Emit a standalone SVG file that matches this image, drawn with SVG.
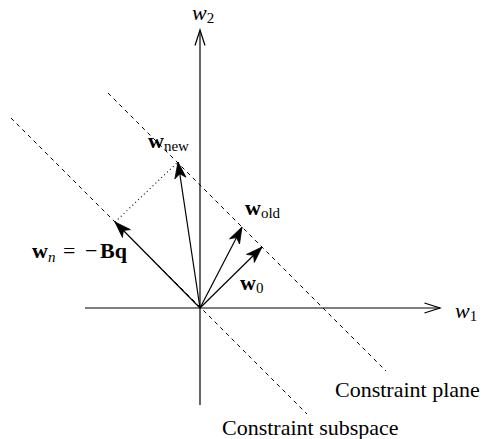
<svg xmlns="http://www.w3.org/2000/svg" width="485" height="439" viewBox="0 0 485 439">
<style>
.ax{stroke:#000;stroke-width:1.2;fill:none}
.vec{stroke:#000;stroke-width:1.2;fill:none}
.dash{stroke:#000;stroke-width:1;fill:none;stroke-dasharray:4 4}
.dot{stroke:#000;stroke-width:1.1;fill:none;stroke-dasharray:1 3}
text{font-family:"Liberation Serif","Times New Roman",serif;fill:#000}
.it{font-style:italic;font-size:22px}
.bf{font-weight:bold;font-size:22px}
.sub{font-size:15px}
.lbl{font-size:22px}
</style>
<defs>
<marker id="open" markerUnits="userSpaceOnUse" markerWidth="20" markerHeight="20" refX="0" refY="0" viewBox="-16 -8 18 16" orient="auto" overflow="visible">
<path d="M-14,-4.5 L0,0 L-14,4.5" fill="none" stroke="#000" stroke-width="1.1"/>
</marker>
<marker id="fill" markerUnits="userSpaceOnUse" markerWidth="20" markerHeight="20" refX="0" refY="0" viewBox="-14 -6 16 12" orient="auto" overflow="visible">
<path d="M0,0 L-13,-4.5 L-9.5,0 L-13,4.5 Z" fill="#000" stroke="#000" stroke-width="0.6"/>
</marker>
</defs>
<g id="connectors">
<line id="axis-w1" class="ax" x1="85" y1="308" x2="440" y2="308" marker-end="url(#open)"/>
<line id="axis-w2" class="ax" x1="200" y1="405" x2="200" y2="30" marker-end="url(#open)"/>
<line id="constraint-plane-line" class="dash" x1="108" y1="93" x2="386" y2="371"/>
<line id="constraint-subspace-line" class="dash" x1="11" y1="118" x2="307" y2="414"/>
<line id="proj" class="dot" x1="115" y1="222" x2="178" y2="162"/>
<line id="vec-wn" class="vec" x1="200" y1="308" x2="115" y2="222" marker-end="url(#fill)"/>
<line id="vec-wnew" class="vec" x1="200" y1="308" x2="178" y2="162" marker-end="url(#fill)"/>
<line id="vec-wold" class="vec" x1="200" y1="308" x2="242" y2="227" marker-end="url(#fill)"/>
<line id="vec-w0" class="vec" x1="200" y1="308" x2="262" y2="247" marker-end="url(#fill)"/>
</g>
<g id="label-w2"><text x="192" y="20"><tspan class="it">w</tspan><tspan class="sub" dy="3">2</tspan></text></g>
<g id="label-w1"><text x="455" y="318"><tspan class="it">w</tspan><tspan class="sub" dy="3">1</tspan></text></g>
<g id="label-wnew"><text x="148" y="148"><tspan class="bf">w</tspan><tspan class="sub" dy="3">new</tspan></text></g>
<g id="label-wold"><text x="245" y="215"><tspan class="bf">w</tspan><tspan class="sub" dy="3">old</tspan></text></g>
<g id="label-w0"><text x="240" y="290"><tspan class="bf">w</tspan><tspan class="sub" dy="3">0</tspan></text></g>
<g id="label-wn"><text x="32" y="258"><tspan class="bf">w</tspan><tspan class="sub it" style="font-size:15px" x="48" y="262">n</tspan><tspan class="lbl" x="63" y="258">=</tspan><tspan class="lbl" x="85" y="258">−</tspan><tspan class="bf" x="100" y="258">Bq</tspan></text></g>
<g id="label-plane"><text class="lbl" x="335" y="397">Constraint plane</text></g>
<g id="label-subspace"><text class="lbl" x="222" y="435">Constraint subspace</text></g>
</svg>
